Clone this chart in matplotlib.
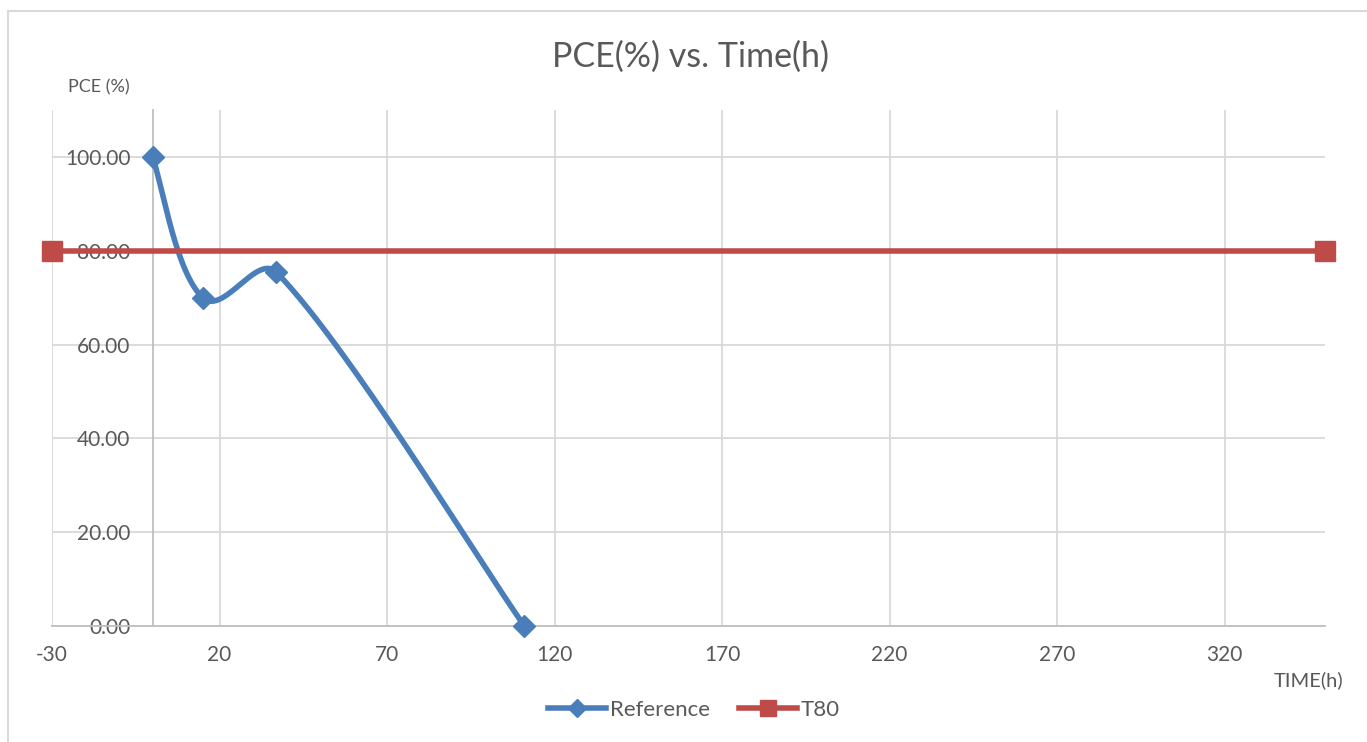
import numpy as np
import matplotlib
matplotlib.use("Agg")
import matplotlib.pyplot as plt
from matplotlib.lines import Line2D
from matplotlib.patches import Rectangle

plt.rcParams['font.family'] = ['Lato', 'DejaVu Sans']
plt.rcParams['axes.unicode_minus'] = False

# data
ref_time = [0, 15, 37, 111]
ref_pce = [100.0, 70.0, 75.4, 0.0]
t80_time = [-30, 350]
t80_pce = [80.0, 80.0]

x_ticks = [-30, 20, 70, 120, 170, 220, 270, 320]
y_ticks = [0, 20, 40, 60, 80, 100]

BLUE = "#4A7EBB"
RED = "#BE4B48"
TEXT = "#595959"
GRID = "#D9D9D9"


def smooth(ax, xs, ys, n=60):
    # Excel-like smoothed line: bezier segments, tangent parallel to the
    # neighbours' chord, arm length limited by the segment length
    pts = ax.transData.transform(np.column_stack([xs, ys]).astype(float))
    m = len(pts)
    tang, chord = [], []
    for i in range(m):
        d = pts[min(i + 1, m - 1)] - pts[max(i - 1, 0)]
        chord.append(np.hypot(*d))
        tang.append(d / np.hypot(*d))
    out = []
    for i in range(m - 1):
        p1, p2 = pts[i], pts[i + 1]
        L = np.hypot(*(p2 - p1))
        arm1 = 0.2 * L if i == 0 else min(0.22 * chord[i], 0.36 * L)
        arm2 = 0.2 * L if i == m - 2 else min(0.22 * chord[i + 1], 0.36 * L)
        c1 = p1 + tang[i] * arm1
        c2 = p2 - tang[i + 1] * arm2
        t = np.linspace(0, 1, n)[:, None]
        seg = ((1 - t) ** 3) * p1 + 3 * ((1 - t) ** 2) * t * c1 \
            + 3 * (1 - t) * t ** 2 * c2 + t ** 3 * p2
        out.append(seg if i == 0 else seg[1:])
    seg = ax.transData.inverted().transform(np.vstack(out))
    return seg[:, 0], seg[:, 1]


fig = plt.figure(figsize=(13.67, 7.42), dpi=100)
ax = fig.add_axes([52 / 1367, 1 - 626 / 742, (1325 - 52) / 1367, (626 - 110) / 742])
ax.set_xlim(-30, 350)
ax.set_ylim(0, 110)

sx, sy = smooth(ax, ref_time, ref_pce)
ax.plot(sx, sy, color=BLUE, lw=4, solid_capstyle='round', zorder=3, clip_on=False)
ax.plot(ref_time, ref_pce, ls='none', marker='D', ms=11, color=BLUE, zorder=4, clip_on=False)
ax.plot(t80_time, t80_pce, color=RED, lw=4, marker='s', ms=14, zorder=3, clip_on=False)

ax.set_xticks(x_ticks)
ax.set_yticks(y_ticks)
ax.set_yticklabels([f"{v:.2f}" for v in y_ticks])

ax.grid(True, color=GRID, lw=1.3)
ax.set_axisbelow(True)
for s in ['top', 'right']:
    ax.spines[s].set_visible(False)
ax.spines['left'].set_position(('data', 0))
ax.spines['left'].set_color("#BFBFBF")
ax.spines['bottom'].set_color("#BFBFBF")
ax.spines['left'].set_linewidth(1.3)
ax.spines['bottom'].set_linewidth(1.3)
ax.tick_params(axis='both', length=0, labelsize=15, colors=TEXT)
ax.tick_params(axis='y', pad=16)
ax.tick_params(axis='x', pad=14)

fig.text(691 / 1367, 1 - 57 / 742, "PCE(%) vs. Time(h)", ha='center', va='center',
         fontsize=24.5, color=TEXT)
fig.text(99 / 1367, 1 - 87 / 742, "PCE (%)", ha='center', va='center',
         fontsize=13, color=TEXT)
fig.text(1309 / 1367, 1 - 680 / 742, "TIME(h)", ha='center', va='center',
         fontsize=14.5, color=TEXT)

handles = [
    Line2D([], [], color=BLUE, lw=4, marker='D', ms=9),
    Line2D([], [], color=RED, lw=4, marker='s', ms=11),
]
fig.legend(handles, ["Reference", "T80"], loc='center', ncol=2, frameon=False,
           bbox_to_anchor=(694 / 1367, 1 - 710 / 742), fontsize=16,
           labelcolor=TEXT, handlelength=2.6, handletextpad=0.2, columnspacing=1.3)

fig.add_artist(Rectangle((8 / 1367, -0.05), 1.1, 1.05 - 11 / 742, transform=fig.transFigure,
                         fill=False, edgecolor=GRID, lw=1.5))

fig.savefig("out.png", dpi=100)
